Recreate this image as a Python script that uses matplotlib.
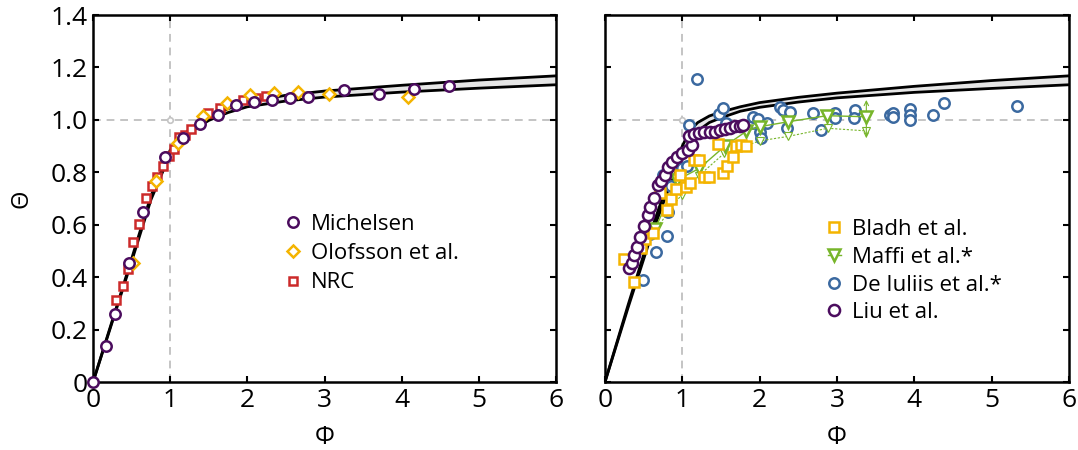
import numpy as np
import matplotlib
matplotlib.use("Agg")
import matplotlib.pyplot as plt

plt.rcParams['font.family'] = ['Open Sans', 'DejaVu Sans']

# model band, left panel
phi_curve_l = [0, 0.25, 0.5, 0.75, 1.0, 1.25, 1.5, 1.75, 2.0, 2.5, 3.0, 4.0, 5.0, 6.0]
theta_up_l = [0, 0.235, 0.47, 0.71, 0.885, 0.965, 1.012, 1.043, 1.068, 1.094, 1.11, 1.132, 1.152, 1.168]
theta_lo_l = [0, 0.23, 0.46, 0.695, 0.87, 0.952, 0.998, 1.028, 1.05, 1.072, 1.087, 1.106, 1.121, 1.134]

# model band, right panel
phi_curve_r = [0, 0.3, 0.6, 0.8, 0.9, 1.0, 1.1, 1.2, 1.35, 1.5, 1.75, 2.0, 2.5, 3.0, 4.0, 5.0, 6.0]
theta_up_r = [0, 0.295, 0.58, 0.75, 0.83, 0.9, 0.96, 0.99, 1.015, 1.03, 1.05, 1.066, 1.086, 1.102, 1.128, 1.15, 1.168]
theta_lo_r = [0, 0.285, 0.56, 0.72, 0.79, 0.86, 0.92, 0.958, 0.99, 1.008, 1.033, 1.048, 1.068, 1.084, 1.105, 1.12, 1.134]

# left panel data
mich_phi = [0, 0.164, 0.285, 0.466, 0.652, 0.933, 1.166, 1.386, 1.623, 1.852, 2.085,
            2.315, 2.552, 2.78, 3.25, 3.71, 4.158, 4.615]
mich_theta = [0, 0.139, 0.26, 0.455, 0.648, 0.86, 0.93, 0.985, 1.017, 1.055, 1.067,
              1.074, 1.085, 1.089, 1.114, 1.097, 1.117, 1.13]

olof_phi = [0.514, 0.816, 1.105, 1.429, 1.74, 2.04, 2.35, 2.66, 3.06, 4.085]
olof_theta = [0.453, 0.768, 0.913, 1.013, 1.064, 1.095, 1.104, 1.106, 1.098, 1.087]

nrc_phi = [0.294, 0.385, 0.449, 0.522, 0.596, 0.687, 0.76, 0.825, 0.903, 0.98, 1.053,
           1.114, 1.19, 1.27, 1.494, 1.645, 1.947, 2.107, 2.237]
nrc_theta = [0.313, 0.366, 0.43, 0.536, 0.602, 0.701, 0.749, 0.784, 0.824, 0.862, 0.888,
             0.934, 0.943, 0.964, 1.025, 1.047, 1.074, 1.085, 1.092]

# right panel data
bladh_phi = [0.24, 0.37, 0.46, 0.52, 0.62, 0.71, 0.80, 0.85, 0.92, 0.97, 1.05, 1.10,
             1.15, 1.22, 1.28, 1.34, 1.46, 1.53, 1.58, 1.65, 1.70, 1.76, 1.82]
bladh_theta = [0.468, 0.383, 0.51, 0.545, 0.567, 0.72, 0.657, 0.699, 0.735, 0.79, 0.743, 0.76,
               0.847, 0.847, 0.783, 0.783, 0.908, 0.797, 0.826, 0.86, 0.902, 0.903, 0.902]

maffi_phi = [0.65, 0.93, 1.22, 1.55, 1.83, 2.0, 2.37, 2.87, 3.38]
maffi_theta = [0.585, 0.77, 0.815, 0.9, 0.957, 0.974, 0.993, 1.016, 1.012]

maffi2_phi = [0.65, 0.99, 1.21, 1.54, 2.0, 2.37, 2.88, 3.38]
maffi2_theta = [0.58, 0.715, 0.786, 0.872, 0.92, 0.937, 0.968, 0.958]
maffi_err = [0.93, 1.076]

deiu_phi = [0.49, 0.58, 0.66, 0.75, 0.80, 0.82, 0.85, 1.0, 1.06, 1.09, 1.19, 1.48, 1.53,
            1.57, 1.91, 1.92, 1.98, 2.01, 2.02, 2.09, 2.26, 2.30, 2.39, 2.36, 2.69, 2.79,
            2.98, 2.97, 3.23, 3.22, 3.68, 3.73, 3.73, 3.95, 3.95, 3.95, 4.24, 4.39, 5.33]
deiu_theta = [0.389, 0.565, 0.497, 0.79, 0.558, 0.65, 0.748, 0.815, 0.824, 0.981, 1.155, 1.023, 1.045,
              0.987, 0.99, 1.012, 1.002, 0.955, 0.93, 0.988, 1.051, 1.038, 1.032, 0.968, 1.026, 0.962,
              1.027, 1.006, 1.036, 1.006, 1.017, 1.027, 1.012, 1.043, 1.019, 1.001, 1.018, 1.063, 1.053]

liu_phi = [0.31, 0.35, 0.38, 0.42, 0.45, 0.51, 0.55, 0.58, 0.63, 0.68, 0.72, 0.78, 0.82,
           0.87, 0.93, 1.0, 1.07, 1.13, 1.09, 1.15, 1.22, 1.28, 1.36, 1.42, 1.49, 1.55,
           1.62, 1.68, 1.75, 1.78]
liu_theta = [0.434, 0.455, 0.485, 0.516, 0.552, 0.595, 0.637, 0.669, 0.701, 0.752, 0.767, 0.79, 0.822,
             0.841, 0.858, 0.875, 0.885, 0.905, 0.939, 0.947, 0.949, 0.952, 0.952, 0.955, 0.96, 0.965,
             0.97, 0.975, 0.978, 0.981]

purple = '#4b0c5e'
yellow = '#f4b400'
red = '#cc2a2a'
green = '#77b52a'
blue = '#3b69a0'
grey = '#c4c4c4'

fig = plt.figure(figsize=(10.78, 4.5), dpi=100)
ax1 = fig.add_axes([0.0863, 0.151, 0.4295, 0.8156])
ax2 = fig.add_axes([0.5612, 0.151, 0.4304, 0.8156])


def base(ax, phi_c, up, lo):
    ax.axvline(1, color=grey, lw=1.4, ls=(0, (4, 3)), zorder=1)
    ax.axhline(1, color=grey, lw=1.4, ls=(0, (4, 3)), zorder=1)
    ax.plot([1], [1], 'o', ms=4, mfc='white', mec=grey, mew=1.2, zorder=1)
    ax.fill_between(phi_c, lo, up, color='#e6e6e6', lw=0, zorder=2)
    ax.plot(phi_c, up, color='black', lw=2, zorder=3)
    ax.plot(phi_c, lo, color='black', lw=2, zorder=3)
    ax.set_xlim(0, 6)
    ax.set_ylim(0, 1.4)
    ax.set_xticks(range(7))
    ax.set_yticks(np.arange(0, 1.41, 0.2))
    ax.tick_params(direction='in', top=True, right=True, length=4, width=1.5,
                   labelsize=19, pad=4)
    for s in ax.spines.values():
        s.set_linewidth(1.8)
    ax.set_xlabel('Φ', fontsize=18)
    ax.xaxis.set_label_coords(0.5, -0.118)


base(ax1, phi_curve_l, theta_up_l, theta_lo_l)
base(ax2, phi_curve_r, theta_up_r, theta_lo_r)

ax1.set_yticklabels(['0', '0.2', '0.4', '0.6', '0.8', '1.0', '1.2', '1.4'])
ax2.set_yticklabels([])
ax1.set_ylabel('Θ', fontsize=17, labelpad=12)

mk = dict(ls='none', mfc='white', clip_on=False)
ax1.plot(nrc_phi, nrc_theta, marker='s', ms=6, mec=red, mew=1.8, label='NRC', zorder=4, **mk)
ax1.plot(olof_phi, olof_theta, marker='D', ms=6.5, mec=yellow, mew=1.8, label='Olofsson et al.', zorder=5, **mk)
ax1.plot(mich_phi, mich_theta, marker='o', ms=7.5, mec=purple, mew=1.8, label='Michelsen', zorder=6, **mk)

h, l = ax1.get_legend_handles_labels()
ax1.legend(h[::-1], l[::-1], loc='upper left', bbox_to_anchor=(0.398, 0.482), frameon=False,
           fontsize=16, handlelength=0.6, handletextpad=0.5, labelspacing=0.37,
           borderaxespad=0)

# right panel
ax2.plot(deiu_phi, deiu_theta, marker='o', ms=7.5, mec=blue, mew=1.8, label='De Iuliis et al.*', zorder=4, **mk)
ax2.plot(maffi2_phi, maffi2_theta, ls=(0, (2, 1.5)), lw=0.8, color=green, marker='v', ms=6,
         mfc='white', mec=green, mew=0.8, zorder=5)
ax2.annotate('', xy=(maffi2_phi[-1], maffi_err[0]), xytext=(maffi2_phi[-1], maffi_err[1]),
             arrowprops=dict(arrowstyle='<->', color=green, lw=0.8, shrinkA=0, shrinkB=0,
                             mutation_scale=8), zorder=5)
ax2.plot(maffi_phi, maffi_theta, ls='-', lw=1, color=green, marker='v', ms=8,
         mfc='white', mec=green, mew=1.8, label='Maffi et al.*', zorder=6)
ax2.plot(bladh_phi, bladh_theta, marker='s', ms=7, mec=yellow, mew=1.8, label='Bladh et al.', zorder=7, **mk)
ax2.plot(liu_phi, liu_theta, marker='o', ms=8, mec=purple, mew=1.8, label='Liu et al.', zorder=8, **mk)

h, l = ax2.get_legend_handles_labels()
order = [2, 1, 0, 3]
ax2.legend([h[i] for i in order], [l[i] for i in order], loc='upper left',
           bbox_to_anchor=(0.461, 0.468), frameon=False, fontsize=16, handlelength=0.6,
           handletextpad=0.5, labelspacing=0.3, borderaxespad=0)

fig.savefig('out.png', dpi=100)
